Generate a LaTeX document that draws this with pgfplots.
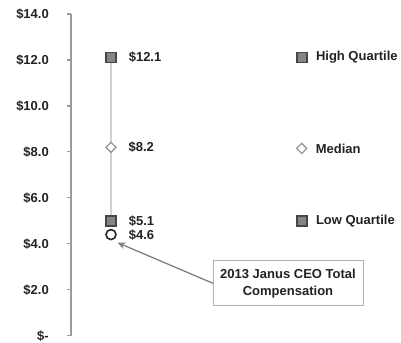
\documentclass[border=0pt]{standalone}
\usepackage{pgfplots}
\pgfplotsset{compat=1.18}
\usepackage{fontspec}
\setmainfont{Liberation Sans}
\usetikzlibrary{arrows.meta}
\definecolor{axgray}{HTML}{9A9A9A}
\definecolor{txt}{HTML}{222222}
\newcommand\ff{\fontsize{13bp}{17bp}\selectfont\bfseries}
\begin{document}
\begin{tikzpicture}
\begin{axis}[
  at={(71bp,7.3bp)}, anchor=south west,
  scale only axis, width=330bp, height=321.7bp,
  xmin=0, xmax=330, ymin=0, ymax=14,
  clip=false,
  axis x line=none, axis y line=left,
  axis line style={-, draw=axgray, line width=1.5bp},
  ytick={0,2,4,6,8,10,12,14},
  yticklabels={\$-,\$2.0,\$4.0,\$6.0,\$8.0,\$10.0,\$12.0,\$14.0},
  tick align=outside, major tick length=4bp,
  tick style={draw=axgray, line width=1.2bp},
  yticklabel style={font=\ff, text=txt, anchor=east, inner sep=0pt, xshift=-18bp},
  every node near coord/.style={font=\ff, text=txt, anchor=west, inner sep=0pt},
  point meta=explicit symbolic,
]
% range line
\addplot[draw=black!18, line width=1.5bp] coordinates {(40,5.1) (40,12.1)};
% high quartile
\addplot[only marks, mark=square*, mark size=5bp, mark options={draw=black!72, fill=black!48, line width=1.6bp},
  nodes near coords, every node near coord/.append style={xshift=17bp}]
  coordinates {(40,12.1) [\$12.1]};
% median
\addplot[only marks, mark=square*, mark size=3.6bp, mark options={rotate=45, draw=black!40, fill=white, line width=1.3bp},
  nodes near coords, every node near coord/.append style={xshift=17bp}]
  coordinates {(40,8.2) [\$8.2]};
% low quartile
\addplot[only marks, mark=square*, mark size=5bp, mark options={draw=black!72, fill=black!48, line width=1.6bp},
  nodes near coords, every node near coord/.append style={xshift=17bp}]
  coordinates {(40,5.0) [\$5.1]};
% CEO
\addplot[only marks, mark=o, mark size=5bp, mark options={draw=black!85, fill=white, line width=1.6bp},
  nodes near coords, every node near coord/.append style={xshift=17bp, yshift=-1bp}]
  coordinates {(40,4.4) [\$4.6]};
% legend-like labels
\addplot[only marks, mark=square*, mark size=5bp, mark options={draw=black!72, fill=black!48, line width=1.6bp},
  nodes near coords, every node near coord/.append style={xshift=13.5bp}]
  coordinates {(230.7,12.1) [High Quartile] (230.7,5.0) [Low Quartile]};
\addplot[only marks, mark=square*, mark size=3.6bp, mark options={rotate=45, draw=black!40, fill=white, line width=1.3bp},
  nodes near coords, every node near coord/.append style={xshift=13.5bp}]
  coordinates {(230.7,8.15) [Median]};
\draw[-{Stealth[length=8bp,width=7bp,open]}, draw=black!50, line width=1.3bp]
  (axis cs:142,2.28) -- (axis cs:46.5,4.05);
\node[draw=black!30, line width=1bp, fill=white, align=center, text=txt,
  minimum width=150bp, minimum height=45bp, font=\ff, inner sep=2bp]
  at (axis cs:217,2.28) {2013 Janus CEO Total\\Compensation};
\end{axis}
\pgfresetboundingbox
\path[use as bounding box] (0,0) rectangle (401bp,343bp);
\end{tikzpicture}
\end{document}
